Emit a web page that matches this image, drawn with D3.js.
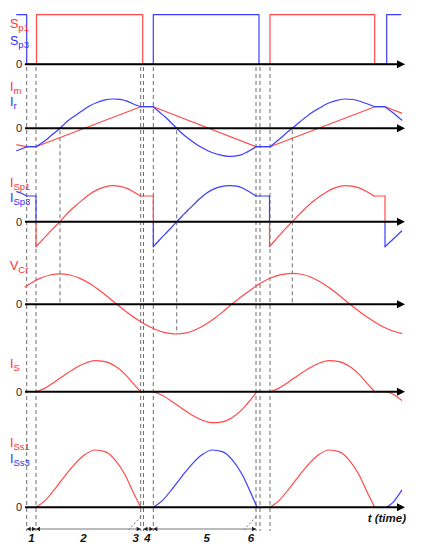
<!DOCTYPE html>
<html><head><meta charset="utf-8">
<script src="https://cdn.jsdelivr.net/npm/d3@7/dist/d3.min.js"></script>
<style>html,body{margin:0;padding:0;background:#fff}svg{display:block}</style>
</head><body>
<script>
// ---------------- data (time and amplitude in arbitrary units) ----------------
const sp1 = [[0,0],[11.5,0],[11.5,1],[117.7,1],[117.7,0],[245,0],[245,1],[349.7,1],[349.7,0],[379,0]];
const sp3 = [[-8.3,1],[1.7,1],[1.7,0],[128.3,0],[128.3,1],[234,1],[234,0],[361.7,0],[361.7,1],[375.7,1]];

const im = [[-8.3,-16.5],[1.7,-18.4],[11,-18.4],[115.7,21.6],[128.3,21.6],[231,-18.4],[245,-18.4],[350,21.6],[360,21.6],[376.7,15.2]];
const ir = [[-8.3,-22.4],[-3,-20.5],[1.7,-18.4],[11,-18.4],[20,-12.5],[27,-6.5],[35,0],[42,6.8],[50,12.5],[57.5,17.8],[65,22.6],[72,25.8],[80,28.4],[88.3,29.3],[95,28.9],[102,27.2],[110,23.5],[115.7,21.6],[128.3,21.6],[134,16.5],[140,11.5],[151.7,0],[158,-6],[165,-11.5],[172,-16.5],[180,-21],[187,-24.2],[195,-26.5],[205,-28],[215,-26.8],[222,-23.8],[227,-21],[231,-18.4],[245,-18.4],[250,-14.5],[256,-9.5],[261,-5],[267.3,0],[274,5.8],[280,10.5],[287,15.8],[295,20.5],[302,24.5],[310,27.5],[320,29.3],[328,28.8],[335,27],[342,24.5],[350,21.6],[360,21.6],[368,15.5],[376.7,8.3]];

const isp1a = [[11,0],[11,-25],[20,-15.4],[27,-8],[35,0],[42,8],[50,15.4],[57.5,21.8],[65,27.8],[72,31.8],[80,34.9],[88.3,36],[95,35.3],[102,33.3],[110,28.9],[115.7,25.7],[128.3,25.7],[128.3,0]];
const isp1b = [[244.5,0],[244.5,-25],[250,-18.8],[255,-13],[261,-6.5],[267.3,0],[274,7],[280,13],[287,19.5],[295,25.5],[302,30],[310,33.8],[320,36],[327,35.5],[334,33.8],[342,30],[349,25.7],[360,25.7],[360,0]];
const isp3a = [[-8.3,30],[-3,28.2],[1.7,25.7],[11,25.7],[11,0]];
const isp3b = [[128.3,0],[128.3,-25],[134,-18.8],[140,-12.5],[146,-6.3],[151.7,0],[158,6.5],[165,13.5],[172,20.5],[180,27.5],[187,31.8],[195,34.8],[205,36],[212,35.5],[218,33.5],[225,29.5],[231,25.7],[244.5,25.7],[244.5,0]];
const isp3c = [[360,0],[360,-25],[368,-17.5],[376.7,-9.3]];

const vcr = [[0,17.4],[8,22.4],[15,25.9],[25,29.3],[35,30.5],[45,29.3],[55,25.9],[65,20.6],[75,13.6],[83,7.3],[91.7,0],[100,-6.4],[110,-13.7],[120,-20],[130,-25],[140,-28.3],[151.7,-29.7],[160,-28.9],[170,-25.7],[180,-20.5],[190,-13.7],[198,-7.3],[206.7,0],[215,6.6],[225,13.9],[235,20.8],[245,26],[255,29.4],[267.3,31],[275,30.3],[285,27.5],[295,22.6],[305,16.1],[315,8.3],[325,0],[335,-7.7],[345,-14.8],[355,-21],[365,-25.7],[376.7,-29]];

const is = [[11,0],[20,3.6],[30,10],[40,17],[50,23.5],[60,28.5],[70,31],[80,30.1],[90,25.7],[100,17.6],[108,8.4],[115.7,0],[128.3,0],[137.3,-3.6],[147.3,-10],[157.3,-17],[167.3,-23.5],[177.3,-28.5],[187.3,-31],[197.3,-30.1],[207.3,-25.7],[217.3,-17.6],[225.3,-8.4],[232,0],[245,0],[254,3.6],[264,10],[274,17],[284,23.5],[294,28.5],[304,31],[314,30.1],[324,25.7],[334,17.6],[342,8.4],[349.7,0],[361.7,0],[368,-2.5],[376.7,-8.5]];

const iss1a = [[11,0],[20,6.7],[30,18.5],[40,31.5],[50,43.5],[60,52.7],[70,57.3],[80,55.7],[90,47.5],[100,32.6],[108,15.5],[115.7,0]];
const iss3a = [[128.3,0],[137.3,6.7],[147.3,18.5],[157.3,31.5],[167.3,43.5],[177.3,52.7],[187.3,57.3],[197.3,55.7],[207.3,47.5],[217.3,32.6],[225.3,15.5],[232,0]];
const iss1b = [[245,0],[254,6.7],[264,18.5],[274,31.5],[284,43.5],[294,52.7],[304,57.3],[314,55.7],[324,47.5],[334,32.6],[342,15.5],[349.7,0]];
const iss3b = [[361.7,0],[368,5],[376.7,17]];

const switchT = [1.7, 11, 118.5, 128.3, 235, 245];   // switching instants
const equalT  = [115.7, 231];                        // Ir reaches Im
const zeroT   = [35, 151.7, 267.3];                  // Ir zero crossings
const intervalNames = ["1","2","3","4","5","6"];
const intervalT = [1.7, 11, 115.7, 118.5, 128.3, 231, 235];

// ---------------- drawing ----------------
const W = 421, H = 550;
const RED = "#ff4a4a", BLUE = "#3c3cff", RED_T = "#ff3030", BLUE_T = "#3030ff";
const svg = d3.select("body").append("svg").attr("width", W).attr("height", H);
const x = d3.scaleLinear().domain([0, 380]).range([25, 405]);

const panels = {
  sp:  {zero: 64.3},
  ir:  {zero: 128.3},
  isp: {zero: 221.7},
  vcr: {zero: 304.3},
  is:  {zero: 391.7},
  iss: {zero: 507.3}
};
for (const k in panels) {
  const p = panels[k];
  p.y = d3.scaleLinear().domain([-40, 40]).range([p.zero + 40, p.zero - 40]);
}
const ySp = d3.scaleLinear().domain([0, 1]).range([64.3, 14.7]);

const gDash = svg.append("g");
const gSig = svg.append("g");
const gAxis = svg.append("g");
const gTxt = svg.append("g");

function splitRuns(pts) {
  const runs = []; let cur = [pts[0]];
  for (let i = 1; i < pts.length; i++) {
    const a = pts[i - 1], b = pts[i];
    if (a[0] === b[0] || a[1] === b[1]) {
      if (cur.length > 1) runs.push({pts: cur, curve: true});
      runs.push({pts: [a, b], curve: false});
      cur = [b];
    } else cur.push(b);
  }
  if (cur.length > 1) runs.push({pts: cur, curve: true});
  return runs;
}
function drawSignal(pts, ys, color, smooth) {
  const runs = smooth ? splitRuns(pts) : [{pts: pts, curve: false}];
  runs.forEach(r => {
    const line = d3.line().x(d => x(d[0])).y(d => ys(d[1]))
      .curve(r.curve ? d3.curveMonotoneX : d3.curveLinear);
    gSig.append("path").attr("d", line(r.pts)).attr("fill", "none")
      .attr("stroke", color).attr("stroke-width", 1.2)
      .attr("stroke-linejoin", "round").attr("stroke-linecap", "round");
  });
}

// signals
drawSignal(sp1, ySp, RED, false);
drawSignal(sp3, ySp, BLUE, false);
drawSignal(im, panels.ir.y, RED, false);
drawSignal(ir, panels.ir.y, BLUE, true);
[isp1a, isp1b].forEach(s => drawSignal(s, panels.isp.y, RED, true));
[isp3a, isp3b, isp3c].forEach(s => drawSignal(s, panels.isp.y, BLUE, true));
drawSignal(vcr, panels.vcr.y, RED, true);
drawSignal(is, panels.is.y, RED, true);
[iss1a, iss1b].forEach(s => drawSignal(s, panels.iss.y, RED, true));
[iss3a, iss3b].forEach(s => drawSignal(s, panels.iss.y, BLUE, true));

// dashed guide lines
function vdash(t, y1, y2) {
  gDash.append("line").attr("x1", x(t)).attr("x2", x(t)).attr("y1", y1).attr("y2", y2)
    .attr("stroke", "#6e6e6e").attr("stroke-width", 1).attr("stroke-dasharray", "4,3");
}
const yBottom = 531;
switchT.forEach(t => vdash(t, 67, yBottom));
equalT.forEach(t => vdash(t, 67, yBottom));
function vcrAt(t) {
  const i = d3.bisector(d => d[0]).left(vcr, t);
  const a = vcr[Math.max(0, i - 1)], b = vcr[Math.min(vcr.length - 1, i)];
  const f = b[0] === a[0] ? 0 : (t - a[0]) / (b[0] - a[0]);
  return a[1] + f * (b[1] - a[1]);
}
zeroT.forEach(t => {
  const yv = Math.max(panels.vcr.zero, panels.vcr.y(vcrAt(t)));
  vdash(t, panels.ir.zero + 2, yv);
});

// axes with arrowheads and "0" labels
Object.values(panels).forEach(p => {
  const x0 = x(0), x1 = x(379) - 5;
  gAxis.append("line").attr("x1", x0).attr("x2", x1).attr("y1", p.zero).attr("y2", p.zero)
    .attr("stroke", "#000").attr("stroke-width", 2);
  const tip = x(380);
  gAxis.append("path")
    .attr("d", `M${tip},${p.zero} L${tip - 8},${p.zero - 4} L${tip - 8},${p.zero + 4} Z`)
    .attr("fill", "#000");
  gTxt.append("text").attr("x", 22).attr("y", p.zero).attr("dy", "0.35em")
    .attr("text-anchor", "end").attr("font-family", "Liberation Sans, Arial, sans-serif")
    .attr("font-size", 11).attr("fill", "#222").text("0");
});

// signal labels
function label(main, sub, y, color) {
  const t = gTxt.append("text").attr("x", 10).attr("y", y)
    .attr("font-family", "Liberation Sans, Arial, sans-serif").attr("fill", color);
  t.append("tspan").attr("font-size", 12.5).text(main);
  t.append("tspan").attr("font-size", 9.5).attr("dy", 2.5).text(sub);
}
label("S", "p1", 28, RED_T);
label("S", "p3", 45, BLUE_T);
label("I", "m", 91, RED_T);
label("I", "r", 106, BLUE_T);
label("I", "Sp1", 187, RED_T);
label("I", "Sp3", 202, BLUE_T);
label("V", "Cr", 270, RED_T);
label("I", "S", 368, RED_T);
label("I", "Ss1", 447, RED_T);
label("I", "Ss3", 463, BLUE_T);

// interval annotations
const yArr = 529;
function arrowHead(xp, dir) {
  gTxt.append("path")
    .attr("d", `M${xp},${yArr} L${xp - dir * 4},${yArr - 2.3} L${xp - dir * 4},${yArr + 2.3} Z`)
    .attr("fill", "#222");
}
function dimension(xa, xb) {
  gTxt.append("line").attr("x1", xa).attr("x2", xb).attr("y1", yArr).attr("y2", yArr)
    .attr("stroke", "#777").attr("stroke-width", 1);
  arrowHead(xa, -1); arrowHead(xb, 1);
}
const X = intervalT.map(t => x(t));
dimension(X[0], X[1]);
dimension(X[1], X[2]);
dimension(X[3], X[4]);
dimension(X[4], X[5]);
// small intervals 3 and 6 with leader lines
[[2, 3], [5, 6]].forEach(([a, b]) => {
  gTxt.append("line").attr("x1", X[a] - 12).attr("x2", X[a] + 1.5).attr("y1", yArr + 1).attr("y2", yArr - 14)
    .attr("stroke", "#777").attr("stroke-dasharray", "2,2").attr("stroke-width", 1);
});
const labelX = [(X[0] + X[1]) / 2, (X[1] + X[2]) / 2 - 5, X[2] - 5, (X[3] + X[4]) / 2 - 1, (X[4] + X[5]) / 2 + 2, X[5] - 5];
intervalNames.forEach((n, i) => {
  gTxt.append("text").attr("x", labelX[i]).attr("y", 542).attr("text-anchor", "middle")
    .attr("font-family", "Liberation Sans, Arial, sans-serif").attr("font-size", 11.5)
    .attr("font-weight", "bold").attr("font-style", "italic").attr("fill", "#111").text(n);
});
gTxt.append("text").attr("x", 406).attr("y", 522).attr("text-anchor", "end")
  .attr("font-family", "Liberation Sans, Arial, sans-serif").attr("font-size", 11.5)
  .attr("font-weight", "bold").attr("font-style", "italic").attr("fill", "#111").text("t (time)");
</script>
</body></html>
